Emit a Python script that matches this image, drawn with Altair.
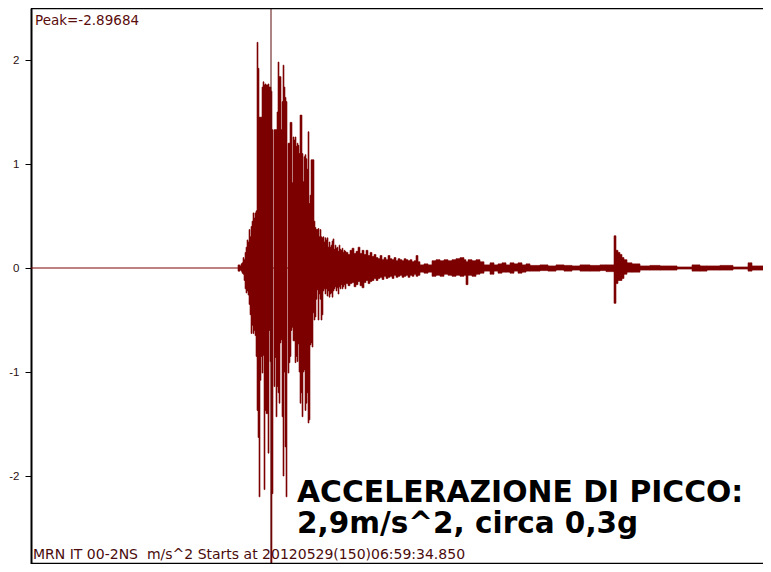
import altair as alt
import pandas as pd

# ---- per-sample columns of the main shaking (time in s, max and min acceleration in m/s^2)
COL_T = [20.9, 21.0, 21.1, 21.2, 21.3, 21.4, 21.5, 21.6, 21.7, 21.8, 21.9, 22.0, 22.1, 22.2, 22.3,
         22.4, 22.5, 22.6, 22.7, 22.8, 22.9, 23.0, 23.1, 23.2, 23.3, 23.4, 23.5, 23.6, 23.7, 23.8,
         23.9, 24.0, 24.1, 24.3, 24.4, 24.5, 24.6, 24.7, 24.8, 24.9, 25.0, 25.1, 25.2, 25.3, 25.4,
         25.5, 25.7, 25.8, 25.9, 26.0, 26.1, 26.2, 26.3, 26.4, 26.5, 26.6, 26.7, 26.8, 26.9, 27.0,
         27.1, 27.2, 27.3, 27.4, 27.5, 27.6, 27.7, 27.8, 27.9, 28.0, 28.1, 28.2, 28.3, 28.4, 28.5,
         28.6, 28.7, 28.8, 28.9, 29.0, 29.1, 29.2, 29.3, 29.4, 29.5, 29.6, 29.7, 29.8, 29.9, 30.0,
         30.1, 30.2, 30.3, 30.4, 30.5, 30.6, 30.7, 30.8, 30.9, 31.0, 31.1, 31.2, 31.3, 31.4]
COL_HI = [0.02, 0.04, 0.05, 0.10, 0.08, 0.15, 0.20, 0.27, 0.25, 0.37, 0.30, 0.40, 0.45, 0.53, 0.48,
          0.53, 0.55, 2.17, 1.92, 1.45, 1.45, 1.45, 1.74, 1.79, 1.76, 1.77, 1.76, 1.76, 1.77, 1.74,
          1.74, 1.70, 1.33, 1.33, 1.33, 1.33, 1.50, 1.98, 1.84, 1.84, 1.33, 1.60, 1.95, 1.74, 1.64,
          1.60, 1.20, 1.20, 1.40, 1.40, 0.82, 1.26, 1.23, 1.26, 1.17, 1.20, 1.18, 1.10, 1.47, 1.47,
          1.10, 0.83, 1.07, 1.09, 1.05, 0.95, 1.31, 0.62, 0.70, 1.04, 1.04, 1.04, 0.45, 0.39, 0.37,
          0.37, 0.38, 0.30, 0.37, 0.30, 0.29, 0.30, 0.25, 0.29, 0.27, 0.29, 0.20, 0.25, 0.20, 0.22,
          0.26, 0.28, 0.18, 0.22, 0.19, 0.20, 0.16, 0.22, 0.18, 0.17, 0.19, 0.15, 0.17, 0.16]
COL_LO = [-0.02, -0.03, -0.05, -0.06, -0.12, -0.20, -0.24, -0.22, -0.26, -0.35, -0.45, -0.63, -0.55, -0.63, -0.60,
          -0.65, -0.85, -1.37, -1.63, -2.20, -1.08, -0.85, -1.01, -0.84, -2.13, -1.37, -1.40, -1.40, -1.78, -0.60,
          -0.90, -2.897, -2.17, -1.14, -0.86, -1.43, -1.14, -1.20, -1.30, -0.72, -0.69, -1.43, -2.00, -1.00, -1.72,
          -2.20, -1.01, -0.91, -0.85, -0.60, -0.57, -0.70, -0.70, -0.91, -0.85, -0.90, -0.73, -1.00, -1.30, -1.20,
          -1.43, -1.00, -0.98, -1.37, -1.30, -1.20, -1.49, -1.46, -0.74, -0.72, -0.76, -0.43, -0.50, -0.47, -0.30,
          -0.21, -0.50, -0.25, -0.30, -0.50, -0.45, -0.22, -0.20, -0.25, -0.20, -0.27, -0.22, -0.28, -0.25, -0.24,
          -0.28, -0.22, -0.20, -0.18, -0.22, -0.19, -0.25, -0.18, -0.20, -0.16, -0.20, -0.18, -0.16, -0.20]

# ---- coda, as time windows with their max / min
SEG_T0 = [20.7, 31.5, 31.7, 31.9, 32.1, 32.3, 32.5, 32.7, 32.9, 33.1, 33.3, 33.5, 33.7, 33.9, 34.1, 34.3,
          34.5, 34.7, 34.9, 35.1, 35.3, 35.5, 35.7, 35.9, 36.1, 36.3, 36.5, 36.7, 36.9, 37.1, 37.3,
          37.5, 37.7, 37.9, 38.1, 38.3, 38.5, 38.7, 38.9, 39.3, 39.7, 40.1, 40.5, 40.9, 41.3, 41.7,
          42.1, 42.5, 42.9, 43.3, 43.5, 43.7, 44.1, 44.5, 44.9, 45.3, 45.9, 46.3, 46.7, 47.1, 47.5,
          47.9, 48.3, 48.7, 49.1, 49.5, 49.9, 50.9, 51.7, 52.5, 53.3, 54.1, 54.9, 55.9, 56.9, 57.5,
          58.3, 58.5, 58.7, 58.9, 59.1, 59.3, 59.6, 60.1, 60.9, 61.9, 62.9, 64.6, 66.1, 66.9, 67.6,
          68.9, 70.2, 71.7, 72.1]
SEG_T1 = [20.9, 31.7, 31.9, 32.1, 32.3, 32.5, 32.7, 32.9, 33.1, 33.3, 33.5, 33.7, 33.9, 34.1, 34.3, 34.5,
          34.7, 34.9, 35.1, 35.3, 35.5, 35.7, 35.9, 36.1, 36.3, 36.5, 36.7, 36.9, 37.1, 37.3, 37.5,
          37.7, 37.9, 38.1, 38.3, 38.5, 38.7, 38.9, 39.3, 39.7, 40.1, 40.5, 40.9, 41.3, 41.7, 42.1,
          42.5, 42.9, 43.3, 43.5, 43.7, 44.1, 44.5, 44.9, 45.3, 45.9, 46.3, 46.7, 47.1, 47.5, 47.9,
          48.3, 48.7, 49.1, 49.5, 49.9, 50.9, 51.7, 52.5, 53.3, 54.1, 54.9, 55.9, 56.9, 57.5, 58.3,
          58.5, 58.7, 58.9, 59.1, 59.3, 59.6, 60.1, 60.9, 61.9, 62.9, 64.6, 66.1, 66.9, 67.6, 68.9,
          70.2, 71.7, 72.1, 74.0]
SEG_HI = [0.03, 0.15, 0.13, 0.17, 0.19, 0.14, 0.16, 0.20, 0.14, 0.17, 0.13, 0.17, 0.12, 0.15, 0.11, 0.13,
          0.10, 0.09, 0.12, 0.08, 0.10, 0.08, 0.12, 0.09, 0.08, 0.10, 0.07, 0.09, 0.08, 0.07, 0.09,
          0.08, 0.07, 0.08, 0.06, 0.07, 0.12, 0.06, 0.03, 0.04, 0.03, 0.07, 0.08, 0.07, 0.08, 0.07,
          0.08, 0.09, 0.10, 0.08, 0.06, 0.08, 0.07, 0.08, 0.06, 0.03, 0.05, 0.03, 0.04, 0.05, 0.03,
          0.05, 0.04, 0.05, 0.03, 0.04, 0.025, 0.03, 0.02, 0.03, 0.025, 0.02, 0.03, 0.025, 0.03, 0.03,
          0.31, 0.17, 0.15, 0.13, 0.10, 0.08, 0.05, 0.04, 0.02, 0.025, 0.02, 0.01, 0.03, 0.02, 0.02,
          0.025, 0.01, 0.05, 0.02]
SEG_LO = [-0.03, -0.15, -0.17, -0.15, -0.14, -0.18, -0.16, -0.13, -0.17, -0.19, -0.14, -0.12, -0.15, -0.13, -0.12, -0.10,
          -0.12, -0.10, -0.09, -0.11, -0.08, -0.10, -0.09, -0.08, -0.10, -0.07, -0.09, -0.08, -0.07, -0.09, -0.08,
          -0.07, -0.09, -0.07, -0.08, -0.06, -0.08, -0.07, -0.04, -0.05, -0.04, -0.08, -0.07, -0.08, -0.06, -0.07,
          -0.08, -0.07, -0.08, -0.07, -0.16, -0.07, -0.08, -0.06, -0.05, -0.03, -0.06, -0.03, -0.05, -0.04, -0.04,
          -0.05, -0.03, -0.05, -0.04, -0.03, -0.03, -0.025, -0.03, -0.02, -0.03, -0.02, -0.03, -0.03, -0.025, -0.035,
          -0.34, -0.15, -0.12, -0.12, -0.10, -0.06, -0.04, -0.04, -0.02, -0.02, -0.02, -0.01, -0.03, -0.03, -0.02,
          -0.02, -0.01, -0.03, -0.02]

RECORD = [0.0, 74.0]          # record start / end (s)
VISIBLE = [0.0, 73.2]         # part of the record shown in the window
Y_RANGE = [-2.846, 2.5]
BASE = [0.0]
PEAK_T = [24.0]               # time of the cursor at the peak
Y_TICKS = [-2, -1, 0, 1, 2]
PEAK_LABEL = "Peak=-2.89684"
FOOTER = "MRN IT 00-2NS \u00a0m/s^2 Starts at 20120529(150)06:59:34.850"
NOTE_1 = "ACCELERAZIONE DI PICCO:"
NOTE_2 = "2,9m/s^2, circa 0,3g"

WAVE = "#7d0000"
W, H = 732, 556

cols = pd.DataFrame({"t": COL_T, "hi": COL_HI, "lo": COL_LO})
segs = pd.DataFrame({"t0": SEG_T0, "t1": SEG_T1, "hi": SEG_HI, "lo": SEG_LO})
base = pd.DataFrame({"t0": [RECORD[0]], "t1": [RECORD[1]], "v": BASE})
edges = pd.DataFrame({"t0": [VISIBLE[0]] * 2, "t1": [VISIBLE[1]] * 2, "v": Y_RANGE})
peak = pd.DataFrame({"t": PEAK_T})

xs = alt.Scale(domain=VISIBLE, nice=False, zero=False)
ys = alt.Scale(domain=Y_RANGE, nice=False, zero=False)

baseline = alt.Chart(base).mark_rule(color=WAVE, strokeWidth=1, clip=True).encode(
    x=alt.X("t0:Q", scale=xs, axis=None), x2="t1:Q",
    y=alt.Y("v:Q", scale=ys, title=None,
            axis=alt.Axis(values=Y_TICKS, labelExpr="'' + datum.value",
                          domain=True, domainColor="#000",
                          domainWidth=2, tickSize=6, tickColor="#000",
                          tickWidth=1, labelPadding=6, labelFontSize=11.5,
                          labelFont="Liberation Sans", labelColor="#2a1010", grid=False)),
)

col_marks = alt.Chart(cols).transform_calculate(t2="datum.t + 0.1").mark_rect(
    color=WAVE, stroke=WAVE, strokeWidth=0.6, clip=True).encode(
    x=alt.X("t:Q", scale=xs), x2="t2:Q", y=alt.Y("hi:Q", scale=ys), y2="lo:Q")

seg_marks = alt.Chart(segs).mark_rect(
    color=WAVE, stroke=WAVE, strokeWidth=0.6, clip=True).encode(
    x=alt.X("t0:Q", scale=xs), x2="t1:Q", y=alt.Y("hi:Q", scale=ys), y2="lo:Q")

cursor = alt.Chart(peak).mark_rule(color="#5c0a0a", strokeWidth=1).encode(
    x=alt.X("t:Q", scale=xs), y=alt.value(0), y2=alt.value(H))

frame = alt.Chart(edges).mark_rule(color="#000", strokeWidth=2.5).encode(
    x=alt.X("t0:Q", scale=xs), x2="t1:Q", y=alt.Y("v:Q", scale=ys))

def label(txt, x, y, size, font, weight="normal", color="#000"):
    return alt.Chart(pd.DataFrame({"s": [txt]})).mark_text(
        align="left", baseline="alphabetic", fontSize=size, font=font,
        fontWeight=weight, color=color).encode(x=alt.value(x), y=alt.value(y), text="s:N")

texts = (label(PEAK_LABEL, 4, 17, 13.5, "DejaVu Sans", color="#5a0c0c")
         + label(FOOTER, 2, 551, 14, "DejaVu Sans", color="#4a0c0c")
         + label(NOTE_1, 266, 494, 29.8, "DejaVu Sans", "bold")
         + label(NOTE_2, 266, 525, 29.5, "DejaVu Sans", "bold"))

chart = alt.layer(baseline, seg_marks, col_marks, cursor, frame, texts).properties(
    width=W, height=H, background="white",
    autosize=alt.AutoSizeParams(type="none"),
    padding={"left": 23, "top": 0, "right": 0, "bottom": 0},
).configure_view(stroke="transparent", strokeWidth=0)

chart.save("out.html", embed_options={"renderer": "svg", "actions": False})
